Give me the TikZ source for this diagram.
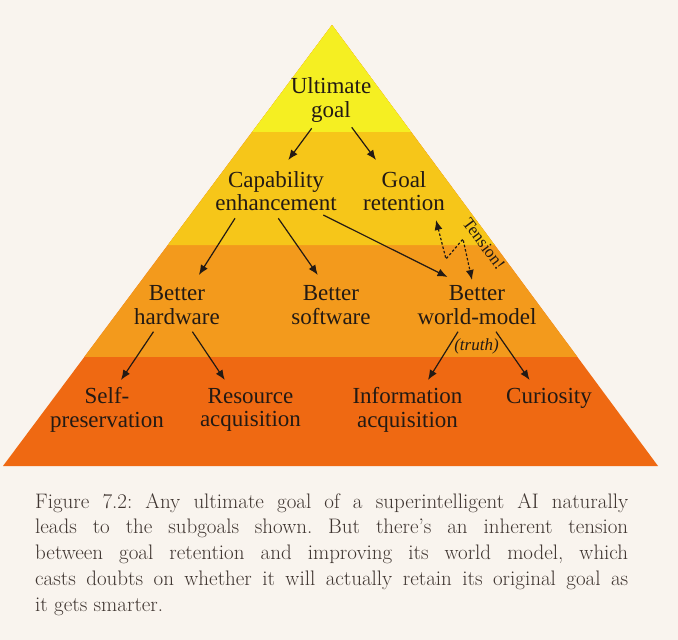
\documentclass[tikz,border=0pt]{standalone}
\usepackage{fontspec}
\usepackage{xcolor}
\usepackage{tikz}
\usetikzlibrary{calc, arrows.meta}

\newfontfamily\labelfont{Liberation Serif}
\frenchspacing

\definecolor{paper}{HTML}{F9F4EE}
\definecolor{bandA}{HTML}{F5EF22}
\definecolor{bandB}{HTML}{F6C619}
\definecolor{bandC}{HTML}{F39A1C}
\definecolor{bandD}{HTML}{EF6912}
\definecolor{ink}{HTML}{231A14}
\definecolor{capink}{HTML}{3F3530}

\begin{document}
\begin{tikzpicture}[x=1pt, y=-1pt, >={Latex[length=10pt, width=8pt]}]
		\tikzstyle{goal} = [align=center, inner sep=0pt, text=ink, font=\labelfont\fontsize{23}{23.4}\selectfont]
		\tikzstyle{note} = [inner sep=0pt, text=ink, font=\labelfont\fontsize{17}{18}\selectfont]
		\tikzstyle{link} = [->, draw=ink, line width=1.2pt]
		\tikzstyle{clash} = [<->, draw=ink, line width=1.2pt, dash pattern=on 2.5pt off 2pt]
		\tikzstyle{figcaption} = [anchor=north west, inner sep=0pt, text width=593pt, align=justify, text=capink, font=\fontsize{21}{25.8}\selectfont]
		
		% page and pyramid
		\fill[paper] (0,0) rectangle (678,640);
		\useasboundingbox (0,0) rectangle (678,640);
		\coordinate (apex) at (332,25);
		\coordinate (bl) at (3,466);
		\coordinate (br) at (658,466);
		\foreach \t/\c in {1/bandD, 0.7528/bandC, 0.4989/bandB, 0.2426/bandA}
			\fill[\c] (apex) -- ($(apex)!\t!(bl)$) -- ($(apex)!\t!(br)$) -- cycle;
		
		% goals
		\node[goal] 	at (331,100) 		(ult) 	{Ultimate\\goal};
		\node[goal] 	at (276,191) 		(cap) 	{Capability\\enhancement};
		\node[goal] 	at (404,191) 		(ret) 	{Goal\\retention};
		\node[goal] 	at (177,305) 		(hw) 	{Better\\hardware};
		\node[goal] 	at (331,305) 		(sw) 	{Better\\software};
		\node[goal] 	at (477,305) 		(wm) 	{Better\\world-model};
		\node[goal] 	at (107,410) 		(self) 	{Self-\\preservation};
		\node[goal] 	at (250.5,410) 		(res) 	{Resource\\acquisition};
		\node[goal] 	at (407.5,410) 		(info) 	{Information\\acquisition};
		\node[goal] 	at (549,398.3) 		(cur) 	{Curiosity};
		\node[note, rotate=-53.4] 	at (484,244) 	(tension) 	{Tension!};
		\node[note] 	at (476.5,346) 		(truth) 	{\itshape(truth)};
		
		% subgoal arrows
		\draw[link] ($(ult)+(-19.3,28.3)$) -- ($(cap)+(12.3,-31)$);
		\draw[link] ($(ult)+(20.7,27.3)$) -- ($(ret)+(-28,-31)$);
		\draw[link] ($(cap)+(-41,27.3)$) -- ($(hw)+(21.9,-30)$);
		\draw[link] ($(cap)+(2.3,27.3)$) -- ($(sw)+(-13.2,-30)$);
		\draw[link] ($(cap)+(47.3,24)$) -- ($(wm)+(-29.5,-28)$);
		\draw[link] ($(hw)+(-23.5,26.7)$) -- ($(self)+(14,-30)$);
		\draw[link] ($(hw)+(15.4,26.7)$) -- ($(res)+(-25.7,-30)$);
		\draw[link] ($(wm)+(-19,26.7)$) -- ($(info)+(20.5,-30)$);
		\draw[link] ($(wm)+(19,26.7)$) -- ($(cur)+(-19.4,-18.3)$);
		\draw[clash] ($(ret)+(32,29)$) -- (446,259) -- (463,239) -- ($(wm)+(-5,-25)$);
		
		% caption
		\node[figcaption] 	at (35,493) 	(caption) 	{Figure 7.2: Any ultimate goal of a superintelligent AI naturally\linebreak leads to the subgoals shown. But there’s an inherent tension\linebreak between goal retention and improving its world model, which\linebreak casts doubts on whether it will actually retain its original goal as\linebreak it gets smarter.};
		\end{tikzpicture}
\end{document}
